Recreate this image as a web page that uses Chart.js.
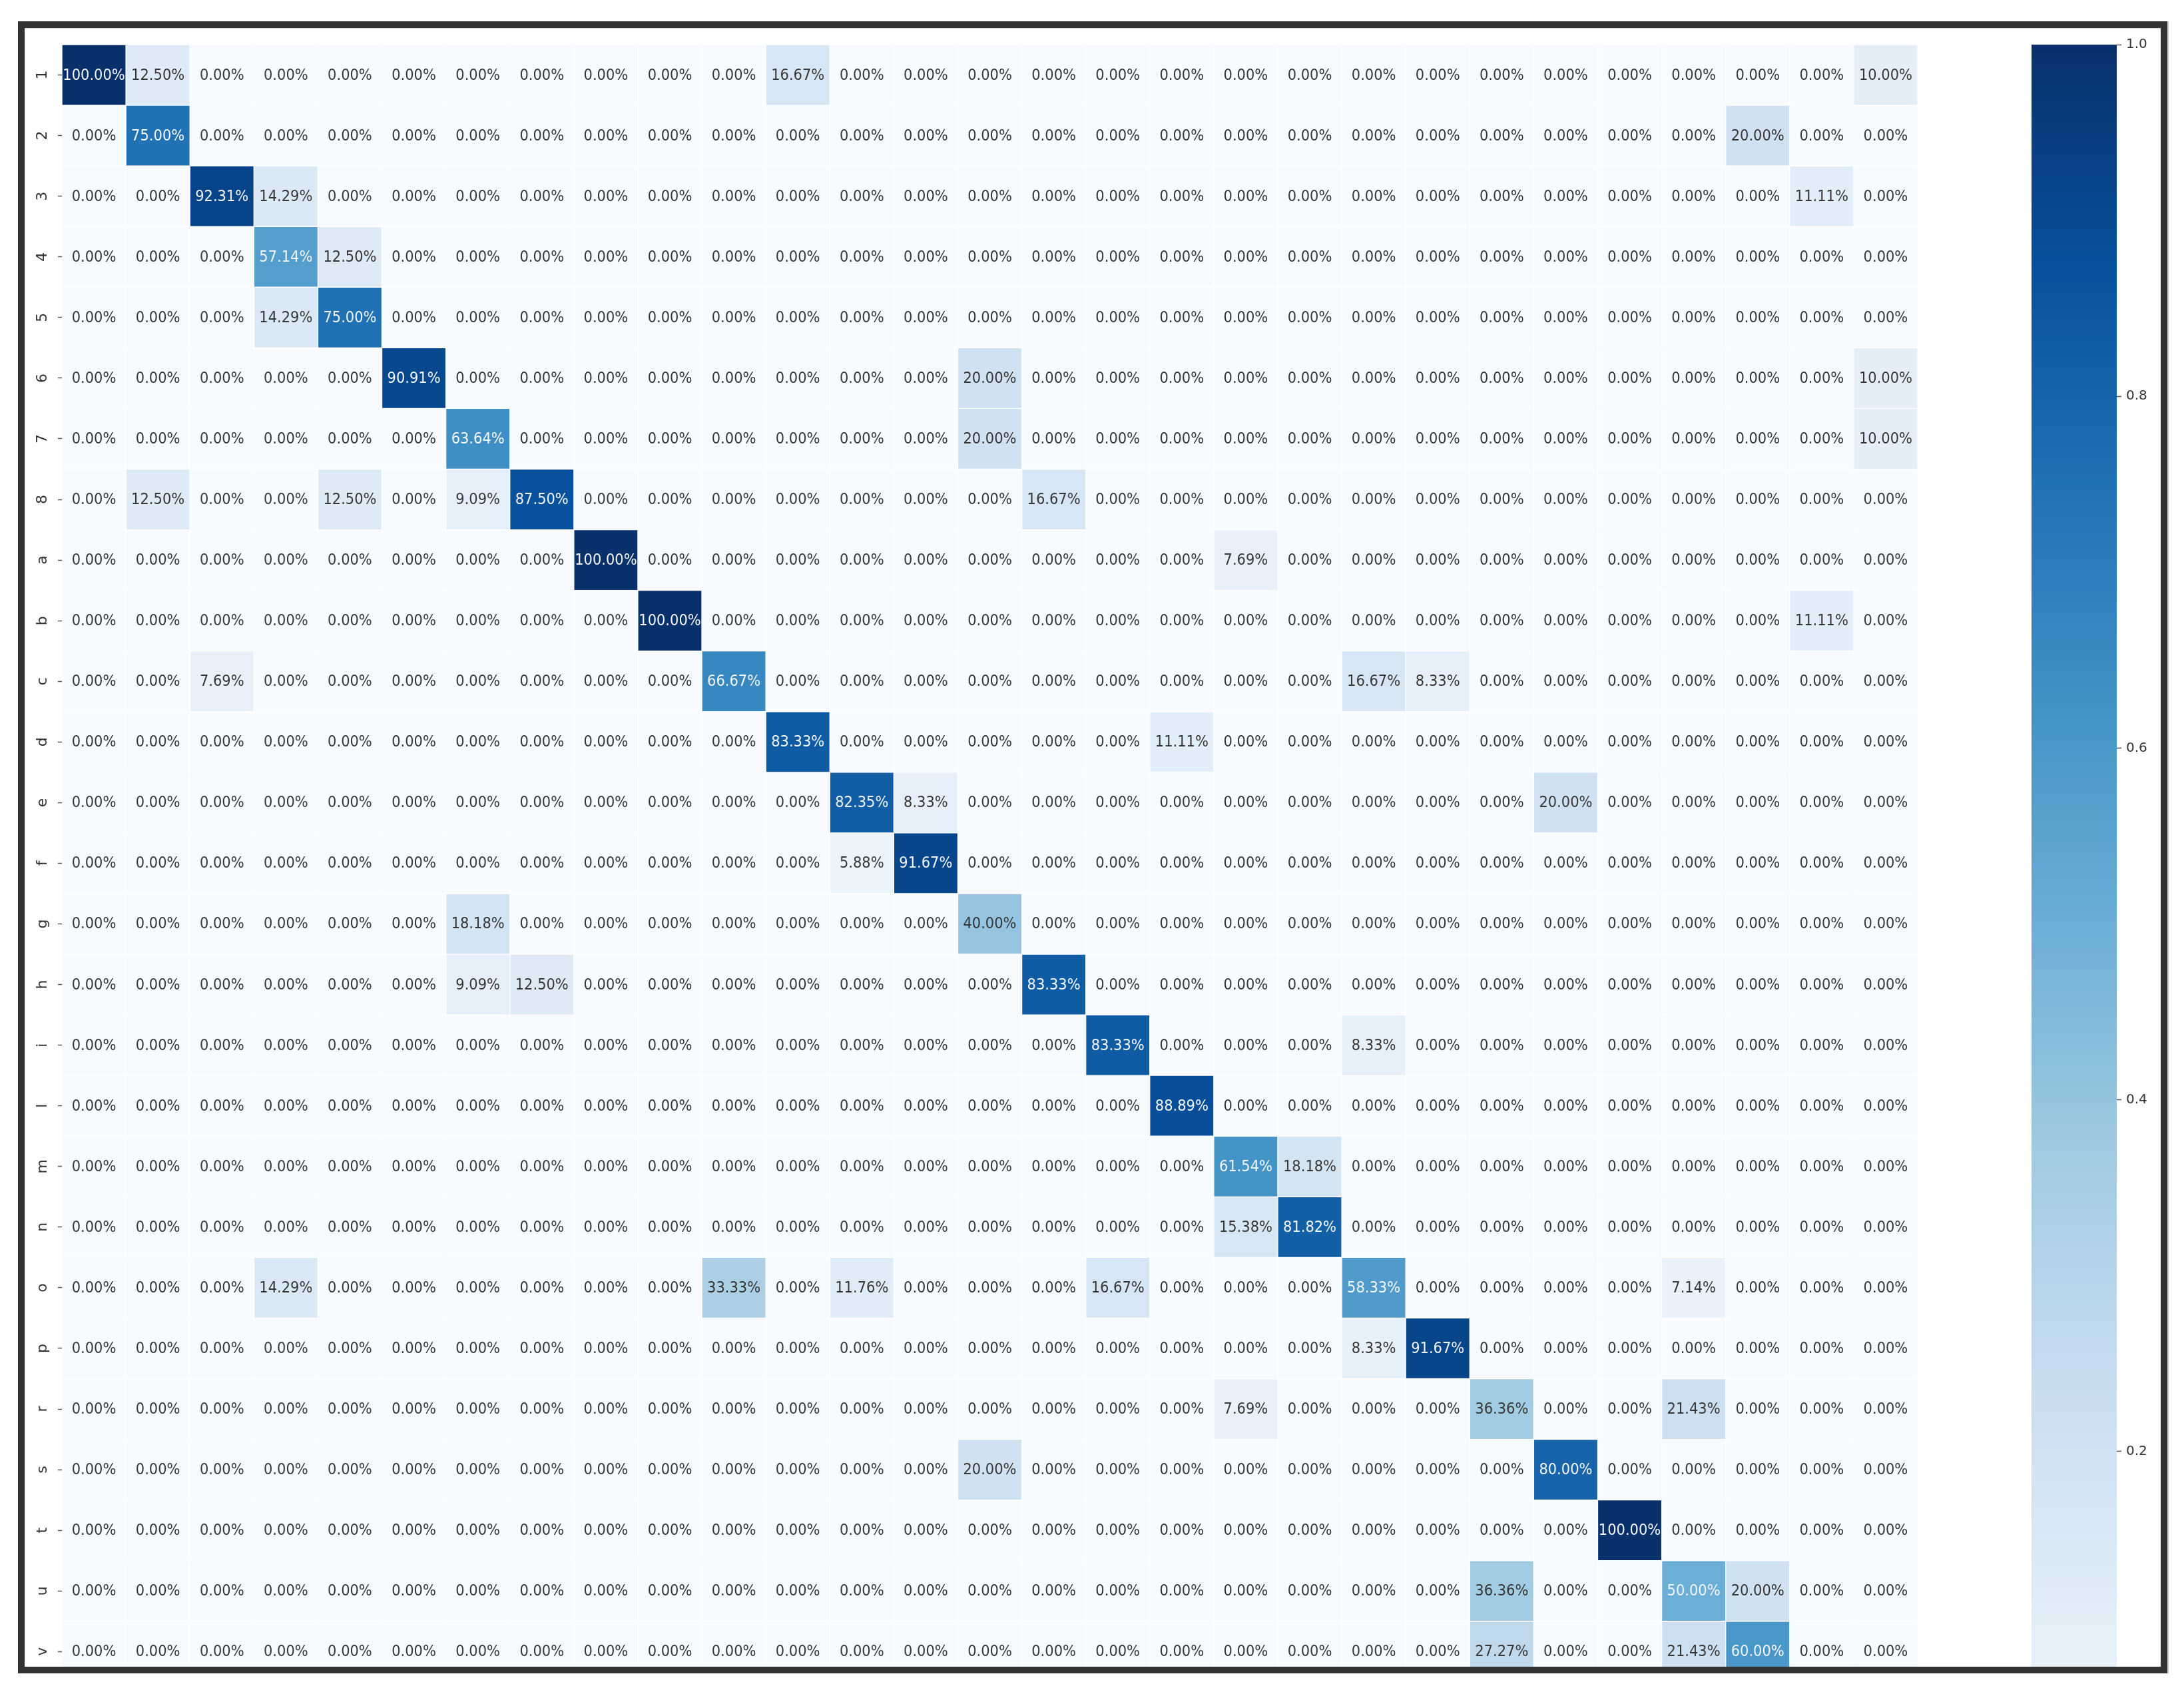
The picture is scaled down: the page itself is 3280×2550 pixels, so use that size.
<!DOCTYPE html>
<html>
<head>
<meta charset="utf-8">
<script src="https://cdn.jsdelivr.net/npm/chart.js@4.4.1/dist/chart.umd.min.js"></script>
<style>
  html, body { margin: 0; padding: 0; background: #ffffff; }
  body { width: 3280px; height: 2550px; position: relative; overflow: hidden; }
  #frame {
    position: absolute; left: 27px; top: 32px; width: 3228px; height: 2481px;
    border: 10px solid #333333; box-sizing: border-box; overflow: hidden; background: #ffffff;
    box-shadow: 2px 0 0 #c8c8c8, inset 0 1px 0 #d6d6d6;
  }
  #heat { position: absolute; left: 0; top: 0; }
  #cbar { position: absolute; left: 3004px; top: 0; }
</style>
</head>
<body>
<div id="frame">
  <canvas id="heat" width="2843" height="2666"></canvas>
  <canvas id="cbar" width="200" height="2666"></canvas>
</div>
<script>
// true classes (rows); the matrix has 29 columns, the last two rows are cut off in the picture
var rowLabels = ['1', '2', '3', '4', '5', '6', '7', '8', 'a', 'b', 'c', 'd', 'e', 'f', 'g', 'h', 'i',
  'l', 'm', 'n', 'o', 'p', 'r', 's', 't', 'u', 'v'];

// percentages per row, 29 columns each
var percent = [
  [100, 12.5, 0, 0, 0, 0, 0, 0, 0, 0,   0, 16.67, 0, 0, 0, 0, 0, 0, 0, 0,   0, 0, 0, 0, 0, 0, 0, 0, 10],
  [0, 75, 0, 0, 0, 0, 0, 0, 0, 0,   0, 0, 0, 0, 0, 0, 0, 0, 0, 0,   0, 0, 0, 0, 0, 0, 20, 0, 0],
  [0, 0, 92.31, 14.29, 0, 0, 0, 0, 0, 0,   0, 0, 0, 0, 0, 0, 0, 0, 0, 0,   0, 0, 0, 0, 0, 0, 0, 11.11, 0],
  [0, 0, 0, 57.14, 12.5, 0, 0, 0, 0, 0,   0, 0, 0, 0, 0, 0, 0, 0, 0, 0,   0, 0, 0, 0, 0, 0, 0, 0, 0],
  [0, 0, 0, 14.29, 75, 0, 0, 0, 0, 0,   0, 0, 0, 0, 0, 0, 0, 0, 0, 0,   0, 0, 0, 0, 0, 0, 0, 0, 0],
  [0, 0, 0, 0, 0, 90.91, 0, 0, 0, 0,   0, 0, 0, 0, 20, 0, 0, 0, 0, 0,   0, 0, 0, 0, 0, 0, 0, 0, 10],
  [0, 0, 0, 0, 0, 0, 63.64, 0, 0, 0,   0, 0, 0, 0, 20, 0, 0, 0, 0, 0,   0, 0, 0, 0, 0, 0, 0, 0, 10],
  [0, 12.5, 0, 0, 12.5, 0, 9.09, 87.5, 0, 0,   0, 0, 0, 0, 0, 16.67, 0, 0, 0, 0,   0, 0, 0, 0, 0, 0, 0, 0, 0],
  [0, 0, 0, 0, 0, 0, 0, 0, 100, 0,   0, 0, 0, 0, 0, 0, 0, 0, 7.69, 0,   0, 0, 0, 0, 0, 0, 0, 0, 0],
  [0, 0, 0, 0, 0, 0, 0, 0, 0, 100,   0, 0, 0, 0, 0, 0, 0, 0, 0, 0,   0, 0, 0, 0, 0, 0, 0, 11.11, 0],
  [0, 0, 7.69, 0, 0, 0, 0, 0, 0, 0,   66.67, 0, 0, 0, 0, 0, 0, 0, 0, 0,   16.67, 8.33, 0, 0, 0, 0, 0, 0, 0],
  [0, 0, 0, 0, 0, 0, 0, 0, 0, 0,   0, 83.33, 0, 0, 0, 0, 0, 11.11, 0, 0,   0, 0, 0, 0, 0, 0, 0, 0, 0],
  [0, 0, 0, 0, 0, 0, 0, 0, 0, 0,   0, 0, 82.35, 8.33, 0, 0, 0, 0, 0, 0,   0, 0, 0, 20, 0, 0, 0, 0, 0],
  [0, 0, 0, 0, 0, 0, 0, 0, 0, 0,   0, 0, 5.88, 91.67, 0, 0, 0, 0, 0, 0,   0, 0, 0, 0, 0, 0, 0, 0, 0],
  [0, 0, 0, 0, 0, 0, 18.18, 0, 0, 0,   0, 0, 0, 0, 40, 0, 0, 0, 0, 0,   0, 0, 0, 0, 0, 0, 0, 0, 0],
  [0, 0, 0, 0, 0, 0, 9.09, 12.5, 0, 0,   0, 0, 0, 0, 0, 83.33, 0, 0, 0, 0,   0, 0, 0, 0, 0, 0, 0, 0, 0],
  [0, 0, 0, 0, 0, 0, 0, 0, 0, 0,   0, 0, 0, 0, 0, 0, 83.33, 0, 0, 0,   8.33, 0, 0, 0, 0, 0, 0, 0, 0],
  [0, 0, 0, 0, 0, 0, 0, 0, 0, 0,   0, 0, 0, 0, 0, 0, 0, 88.89, 0, 0,   0, 0, 0, 0, 0, 0, 0, 0, 0],
  [0, 0, 0, 0, 0, 0, 0, 0, 0, 0,   0, 0, 0, 0, 0, 0, 0, 0, 61.54, 18.18,   0, 0, 0, 0, 0, 0, 0, 0, 0],
  [0, 0, 0, 0, 0, 0, 0, 0, 0, 0,   0, 0, 0, 0, 0, 0, 0, 0, 15.38, 81.82,   0, 0, 0, 0, 0, 0, 0, 0, 0],
  [0, 0, 0, 14.29, 0, 0, 0, 0, 0, 0,   33.33, 0, 11.76, 0, 0, 0, 16.67, 0, 0, 0,   58.33, 0, 0, 0, 0, 7.14, 0, 0, 0],
  [0, 0, 0, 0, 0, 0, 0, 0, 0, 0,   0, 0, 0, 0, 0, 0, 0, 0, 0, 0,   8.33, 91.67, 0, 0, 0, 0, 0, 0, 0],
  [0, 0, 0, 0, 0, 0, 0, 0, 0, 0,   0, 0, 0, 0, 0, 0, 0, 0, 7.69, 0,   0, 0, 36.36, 0, 0, 21.43, 0, 0, 0],
  [0, 0, 0, 0, 0, 0, 0, 0, 0, 0,   0, 0, 0, 0, 20, 0, 0, 0, 0, 0,   0, 0, 0, 80, 0, 0, 0, 0, 0],
  [0, 0, 0, 0, 0, 0, 0, 0, 0, 0,   0, 0, 0, 0, 0, 0, 0, 0, 0, 0,   0, 0, 0, 0, 100, 0, 0, 0, 0],
  [0, 0, 0, 0, 0, 0, 0, 0, 0, 0,   0, 0, 0, 0, 0, 0, 0, 0, 0, 0,   0, 0, 36.36, 0, 0, 50, 20, 0, 0],
  [0, 0, 0, 0, 0, 0, 0, 0, 0, 0,   0, 0, 0, 0, 0, 0, 0, 0, 0, 0,   0, 0, 27.27, 0, 0, 21.43, 60, 0, 0]
];

var classCount = 29;
var colorTicks = [0.2, 0.4, 0.6, 0.8, 1.0];

// matplotlib "Blues"
var bluesStops = ['#f7fbff', '#deebf7', '#c6dbef', '#9ecae1', '#6baed6', '#4292c6', '#2171b5', '#08519c', '#08306b'];

function hexRgb(h) {
  return [parseInt(h.substr(1, 2), 16), parseInt(h.substr(3, 2), 16), parseInt(h.substr(5, 2), 16)];
}

function bluesRgb(t) {
  t = Math.max(0, Math.min(1, t));
  var pos = t * (bluesStops.length - 1);
  var i = Math.min(Math.floor(pos), bluesStops.length - 2);
  var f = pos - i;
  var a = hexRgb(bluesStops[i]), b = hexRgb(bluesStops[i + 1]);
  return [0, 1, 2].map(function (k) { return Math.round(a[k] + (b[k] - a[k]) * f); });
}

function blues(t) {
  var c = bluesRgb(t);
  return 'rgb(' + c[0] + ',' + c[1] + ',' + c[2] + ')';
}

// same rule as seaborn annotations
function textColor(t) {
  var lum = bluesRgb(t).map(function (v) {
    v = v / 255;
    return v <= 0.03928 ? v / 12.92 : Math.pow((v + 0.055) / 1.055, 2.4);
  });
  var l = 0.2126 * lum[0] + 0.7152 * lum[1] + 0.0722 * lum[2];
  return l > 0.408 ? '#363636' : '#f2f6fb';
}

var cells = [];
for (var r = 0; r < percent.length; r++) {
  for (var c = 0; c < percent[r].length; c++) {
    cells.push({ x: c + 0.5, y: [r, r + 1], v: percent[r][c] });
  }
}

Chart.defaults.font.family = 'DejaVu Sans';

var cellText = {
  id: 'cellText',
  afterDatasetsDraw: function (chart) {
    var ctx = chart.ctx;
    var meta = chart.getDatasetMeta(0);
    ctx.save();
    ctx.font = '21px "DejaVu Sans"';
    ctx.textAlign = 'center';
    ctx.textBaseline = 'middle';
    meta.data.forEach(function (bar, k) {
      var raw = chart.data.datasets[0].data[k];
      var p = bar.getProps(['x', 'y', 'base'], true);
      ctx.save();
      ctx.translate(p.x, (p.y + p.base) / 2 + 1);
      ctx.scale(1, 1.1);
      ctx.fillStyle = textColor(raw.v / 100);
      ctx.fillText(raw.v.toFixed(2) + '%', 0, 0);
      ctx.restore();
    });
    ctx.restore();
  }
};

new Chart(document.getElementById('heat'), {
  type: 'bar',
  data: {
    datasets: [{
      data: cells,
      backgroundColor: function (ctx) { return blues(ctx.raw.v / 100); },
      borderColor: '#ffffff',
      borderWidth: 1,
      borderSkipped: false,
      barPercentage: 1,
      categoryPercentage: 1
    }]
  },
  options: {
    responsive: false,
    animation: false,
    devicePixelRatio: 1,
    layout: { padding: { top: 25, left: 0, right: 0, bottom: 0 } },
    plugins: { legend: { display: false }, tooltip: { enabled: false } },
    scales: {
      x: {
        type: 'linear', min: 0, max: classCount, offset: false, display: false,
        ticks: { stepSize: 1 }
      },
      y: {
        type: 'linear', min: 0, max: classCount, reverse: true,
        afterBuildTicks: function (s) {
          s.ticks = rowLabels.map(function (_, i) { return { value: i + 0.5 }; });
        },
        afterFit: function (s) {
          s.width = 56;
          s.paddingTop = 0;
          s.paddingBottom = 0;
        },
        ticks: {
          autoSkip: false,
          minRotation: 90, maxRotation: 90,
          crossAlign: 'center',
          padding: 12,
          color: '#333333',
          font: { size: 22 },
          callback: function (v, i) { return rowLabels[i]; }
        },
        grid: { display: true, drawOnChartArea: false, drawTicks: true, tickLength: 6, tickWidth: 1.5, tickColor: '#555555' },
        border: { display: false }
      }
    }
  },
  plugins: [cellText]
});

new Chart(document.getElementById('cbar'), {
  type: 'bar',
  data: {
    labels: [''],
    datasets: [{
      data: [[0, 1]],
      backgroundColor: function (ctx) {
        var y = ctx.chart.scales.y;
        var y0 = y ? y.getPixelForValue(0) : NaN;
        var y1 = y ? y.getPixelForValue(1) : NaN;
        if (!isFinite(y0) || !isFinite(y1)) return blues(0.5);
        var g = ctx.chart.ctx.createLinearGradient(0, y0, 0, y1);
        bluesStops.forEach(function (col, i) { g.addColorStop(i / (bluesStops.length - 1), col); });
        return g;
      },
      borderWidth: 0,
      barPercentage: 1,
      categoryPercentage: 1
    }]
  },
  options: {
    responsive: false,
    animation: false,
    devicePixelRatio: 1,
    layout: { padding: { top: 25, left: 10, right: 0, bottom: 0 } },
    plugins: { legend: { display: false }, tooltip: { enabled: false } },
    scales: {
      x: { display: false },
      y: {
        position: 'right', min: 0, max: 1,
        afterBuildTicks: function (s) {
          s.ticks = colorTicks.map(function (v) { return { value: v }; });
        },
        afterFit: function (s) {
          s.width = 62;
          s.paddingTop = 0;
          s.paddingBottom = 0;
        },
        ticks: {
          padding: 7,
          color: '#333333',
          font: { size: 20 },
          callback: function (v) { return v.toFixed(1); }
        },
        grid: { display: true, drawOnChartArea: false, drawTicks: true, tickLength: 7, tickWidth: 1.5, tickColor: '#555555' },
        border: { display: false }
      }
    }
  }
});
</script>
</body>
</html>
